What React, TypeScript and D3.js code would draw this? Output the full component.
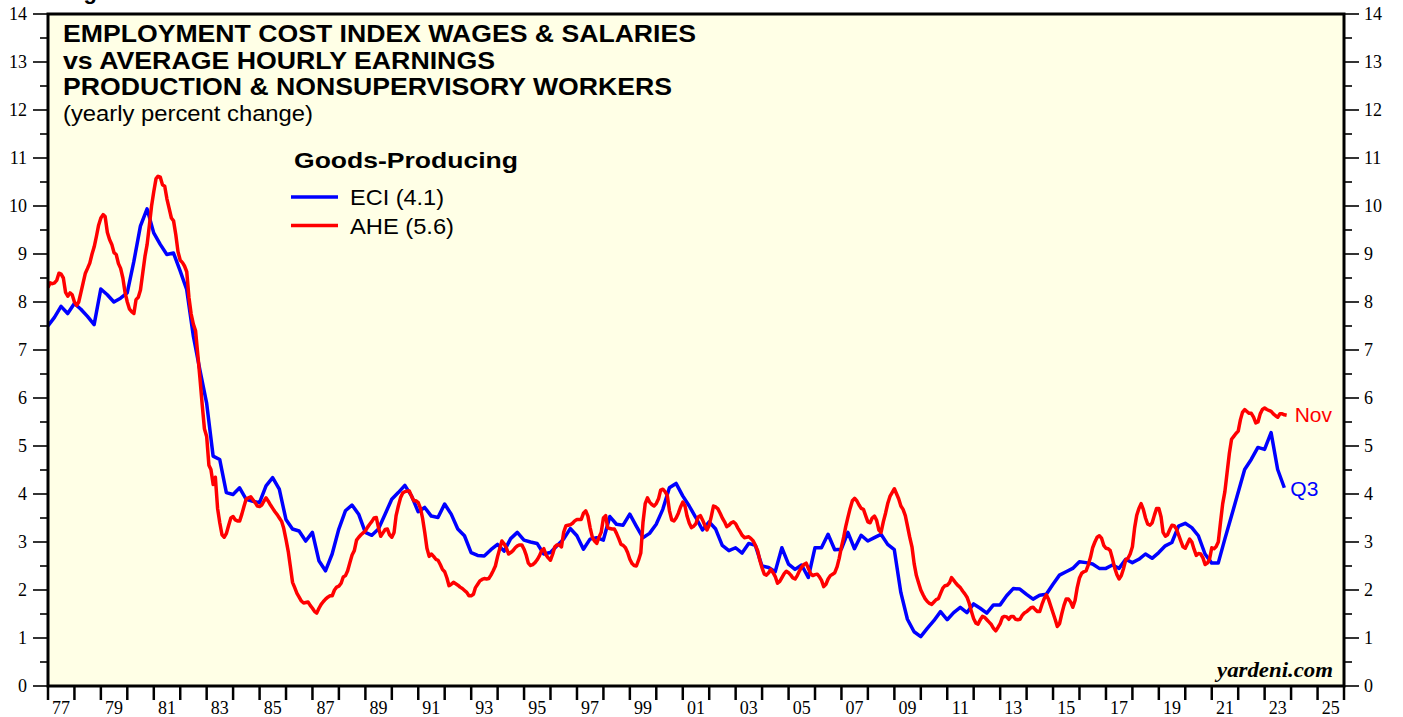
import { useEffect, useRef } from "react";
import * as d3 from "d3";

// ECI wages & salaries, goods-producing, yearly % change, quarterly from 1976 Q4 (plotted at quarter end)
const eciValues: number[] = [
  7.50,
  7.68, 7.91, 7.76, 7.97, // 77
  7.85, 7.70, 7.53, 8.27, // 78
  8.15, 8.00, 8.08, 8.19, // 79
  8.84, 9.58, 9.94, 9.44, // 80
  9.20, 8.99, 9.02, 8.65, // 81
  8.26, 7.30, 6.58, 5.90, // 82
  4.79, 4.72, 4.03, 3.99, // 83
  4.13, 3.89, 3.85, 3.82, // 84
  4.17, 4.34, 4.10, 3.47, // 85
  3.27, 3.23, 3.02, 3.20, // 86
  2.61, 2.40, 2.75, 3.27, // 87
  3.65, 3.77, 3.58, 3.20, // 88
  3.14, 3.27, 3.58, 3.89, // 89
  4.03, 4.18, 3.96, 3.63, // 90
  3.72, 3.54, 3.51, 3.79, // 91
  3.58, 3.27, 3.13, 2.78, // 92
  2.72, 2.71, 2.84, 2.95, // 93
  2.81, 3.07, 3.20, 3.04, // 94
  3.00, 2.97, 2.75, 2.78, // 95
  2.92, 3.06, 3.28, 3.13, // 96
  2.85, 3.06, 3.09, 3.04, // 97
  3.53, 3.37, 3.35, 3.58, // 98
  3.33, 3.09, 3.18, 3.37, // 99
  3.68, 4.13, 4.22, 3.96, // 00
  3.75, 3.51, 3.25, 3.42, // 01
  3.27, 2.93, 2.82, 2.88, // 02
  2.77, 2.97, 2.93, 2.50, // 03
  2.47, 2.38, 2.88, 2.54, // 04
  2.43, 2.52, 2.26, 2.88, // 05
  2.88, 3.16, 2.84, 2.85, // 06
  3.20, 2.86, 3.14, 3.02, // 07
  3.09, 3.16, 2.95, 2.84, // 08
  1.95, 1.39, 1.13, 1.03, // 09
  1.20, 1.36, 1.55, 1.38, // 10
  1.53, 1.64, 1.53, 1.71, // 11
  1.62, 1.52, 1.69, 1.69, // 12
  1.88, 2.03, 2.02, 1.91, // 13
  1.81, 1.89, 1.91, 2.12, // 14
  2.31, 2.38, 2.45, 2.59, // 15
  2.57, 2.54, 2.45, 2.45, // 16
  2.52, 2.45, 2.64, 2.57, // 17
  2.64, 2.75, 2.66, 2.78, // 18
  2.92, 2.99, 3.33, 3.39, // 19
  3.30, 3.13, 2.75, 2.56, // 20
  2.56, 3.06, 3.54, 4.03, // 21
  4.51, 4.72, 4.97, 4.93, // 22
  5.28, 4.51, 4.13,       // 23
];

// AHE production & nonsupervisory workers, goods-producing, yearly % change, monthly from Jan 1977
const aheValues: number[] = [
  8.30, 8.40, 8.38, 8.40, 8.45, 8.60, 8.58, 8.50, 8.20, 8.12, 8.19, 8.15,
  8.00, 7.93, 8.00, 8.20, 8.40, 8.60, 8.70, 8.81, 9.00, 9.15, 9.37, 9.60,
  9.75, 9.82, 9.78, 9.45, 9.30, 9.20, 9.03, 8.99, 8.80, 8.70, 8.50, 8.20,
  8.00, 7.85, 7.80, 7.76, 8.05, 8.10, 8.25, 8.60, 8.95, 9.20, 9.60, 10.00,
  10.30, 10.57, 10.62, 10.60, 10.44, 10.41, 10.15, 9.95, 9.75, 9.69, 9.40, 9.05,
  8.87, 8.82, 8.75, 8.63, 8.10, 7.75, 7.54, 7.40, 6.90, 6.40, 5.85, 5.36,
  5.20, 4.60, 4.51, 4.20, 4.35, 3.70, 3.40, 3.15, 3.10, 3.18, 3.35, 3.50,
  3.53, 3.46, 3.44, 3.44, 3.58, 3.75, 3.90, 3.92, 3.94, 3.88, 3.82, 3.75,
  3.74, 3.77, 3.85, 3.92, 3.85, 3.77, 3.70, 3.63, 3.57, 3.50, 3.43, 3.28,
  3.05, 2.80, 2.50, 2.16, 2.05, 1.93, 1.85, 1.77, 1.73, 1.74, 1.75, 1.68,
  1.62, 1.55, 1.52, 1.62, 1.70, 1.76, 1.81, 1.85, 1.88, 1.88, 2.00, 2.06,
  2.08, 2.14, 2.27, 2.30, 2.40, 2.57, 2.73, 2.82, 3.04, 3.10, 3.15, 3.19,
  3.23, 3.31, 3.37, 3.43, 3.50, 3.51, 3.30, 3.12, 3.19, 3.26, 3.27, 3.15,
  3.10, 3.20, 3.55, 3.75, 3.92, 4.02, 4.05, 4.06, 4.06, 3.95, 3.86, 3.86,
  3.82, 3.70, 3.50, 3.20, 2.87, 2.70, 2.75, 2.70, 2.64, 2.62, 2.53, 2.43,
  2.38, 2.25, 2.09, 2.12, 2.16, 2.13, 2.10, 2.06, 2.03, 1.99, 1.95, 1.88,
  1.88, 1.91, 2.05, 2.12, 2.19, 2.22, 2.24, 2.23, 2.24, 2.31, 2.40, 2.50,
  2.70, 2.87, 3.02, 2.96, 2.88, 2.75, 2.78, 2.82, 2.88, 2.92, 2.94, 2.94,
  2.85, 2.72, 2.56, 2.51, 2.53, 2.57, 2.63, 2.71, 2.82, 2.86, 2.73, 2.67,
  2.62, 2.75, 2.90, 2.94, 2.94, 2.90, 3.20, 3.34, 3.35, 3.36, 3.39, 3.44,
  3.47, 3.47, 3.47, 3.60, 3.65, 3.54, 3.30, 3.10, 3.02, 2.97, 3.10, 3.20,
  3.50, 3.55, 3.30, 3.28, 3.27, 3.27, 3.18, 3.07, 2.95, 2.93, 2.88, 2.78,
  2.64, 2.55, 2.51, 2.50, 2.62, 2.77, 3.40, 3.80, 3.92, 3.83, 3.78, 3.75,
  3.80, 3.90, 4.08, 4.10, 4.05, 3.97, 3.65, 3.46, 3.44, 3.50, 3.60, 3.73,
  3.83, 3.75, 3.54, 3.39, 3.30, 3.33, 3.38, 3.52, 3.55, 3.46, 3.35, 3.25,
  3.35, 3.55, 3.75, 3.73, 3.69, 3.60, 3.50, 3.42, 3.32, 3.35, 3.40, 3.42,
  3.38, 3.29, 3.22, 3.14, 3.09, 3.10, 3.11, 3.07, 3.02, 2.93, 2.82, 2.62,
  2.46, 2.33, 2.31, 2.36, 2.43, 2.36, 2.28, 2.14, 2.18, 2.26, 2.34, 2.39,
  2.36, 2.31, 2.25, 2.23, 2.30, 2.40, 2.48, 2.53, 2.56, 2.45, 2.34, 2.30,
  2.32, 2.33, 2.28, 2.20, 2.07, 2.12, 2.23, 2.30, 2.33, 2.36, 2.48, 2.66,
  2.90, 3.10, 3.32, 3.52, 3.70, 3.86, 3.91, 3.86, 3.77, 3.70, 3.68, 3.55,
  3.42, 3.40, 3.50, 3.54, 3.45, 3.25, 3.20, 3.42, 3.60, 3.80, 3.95, 4.03,
  4.11, 4.00, 3.90, 3.75, 3.68, 3.55, 3.33, 3.10, 2.90, 2.55, 2.30, 2.15,
  2.00, 1.90, 1.82, 1.76, 1.72, 1.70, 1.75, 1.80, 1.82, 1.93, 2.04, 2.09,
  2.10, 2.15, 2.26, 2.20, 2.14, 2.09, 2.05, 1.98, 1.92, 1.85, 1.72, 1.55,
  1.40, 1.31, 1.29, 1.38, 1.45, 1.43, 1.38, 1.33, 1.28, 1.20, 1.15, 1.22,
  1.30, 1.43, 1.45, 1.44, 1.39, 1.45, 1.45, 1.39, 1.38, 1.39, 1.47, 1.52,
  1.55, 1.59, 1.63, 1.64, 1.59, 1.55, 1.55, 1.70, 1.82, 1.90, 1.80, 1.66,
  1.52, 1.38, 1.24, 1.30, 1.50, 1.68, 1.81, 1.81, 1.75, 1.64, 1.78, 2.05,
  2.25, 2.35, 2.38, 2.40, 2.52, 2.68, 2.88, 3.00, 3.10, 3.13, 3.08, 2.93,
  2.87, 2.86, 2.82, 2.65, 2.46, 2.32, 2.23, 2.30, 2.45, 2.63, 2.66, 2.75,
  2.90, 3.30, 3.55, 3.70, 3.80, 3.68, 3.50, 3.37, 3.35, 3.40, 3.56, 3.70,
  3.70, 3.52, 3.20, 3.12, 3.15, 3.26, 3.35, 3.34, 3.27, 3.15, 3.02, 2.90,
  2.87, 2.97, 3.06, 3.00, 2.85, 2.72, 2.76, 2.75, 2.67, 2.53, 2.56, 2.64,
  2.88, 2.86, 2.90, 3.00, 3.40, 3.80, 4.05, 4.45, 4.85, 5.14, 5.20, 5.26,
  5.31, 5.55, 5.70, 5.76, 5.72, 5.68, 5.68, 5.60, 5.48, 5.50, 5.67, 5.76,
  5.79, 5.76, 5.74, 5.72, 5.67, 5.63, 5.60, 5.67, 5.67, 5.65, 5.64,
];

const titleLines: string[] = [
  "EMPLOYMENT COST INDEX WAGES & SALARIES",
  "vs AVERAGE HOURLY EARNINGS",
  "PRODUCTION & NONSUPERVISORY WORKERS",
];
const titleWidths: number[] = [633, 432, 609];
const subtitle = "(yearly percent change)";
const legendTitle = "Goods-Producing";
const seriesNames: string[] = ["ECI (4.1)", "AHE (5.6)"];
const seriesNameWidths: number[] = [94, 104];
const seriesColors: string[] = ["#0000FF", "#FF0000"];
const endLabels: string[] = ["Q3", "Nov"];
const yTicks: number[] = d3.range(0, 15);
const yMinorTicks: number[] = d3.range(0.5, 14, 1);

const width = 1403, height = 717;
const left = 48, right = 1344, top = 14, bottom = 686;

function App() {
  const ref = useRef<SVGSVGElement>(null);

  useEffect(() => {
    const svg = d3.select(ref.current);
    svg.selectAll("*").remove();

    const x = d3.scaleTime()
      .domain([new Date(1977, 0, 1), new Date(2026, 0, 1)])
      .range([left, right]);
    const y = d3.scaleLinear().domain([0, 14]).range([bottom, top]);

    const eci = eciValues.map((v, i) => ({ date: new Date(1977, 3 * i, 0), value: v }));
    const ahe = aheValues.map((v, i) => ({ date: new Date(1977, i, 1), value: v }));

    const sans = "Liberation Sans, Arial, sans-serif";
    const serif = "Liberation Serif, Times New Roman, serif";

    // plot background
    svg.append("rect")
      .attr("x", left).attr("y", top)
      .attr("width", right - left).attr("height", bottom - top)
      .attr("fill", "#FFFFE6");

    svg.append("clipPath").attr("id", "plotclip")
      .append("rect")
      .attr("x", left).attr("y", top)
      .attr("width", right - left).attr("height", bottom - top);

    // heading above the frame, mostly outside the picture in the reference
    svg.append("text")
      .attr("x", 64).attr("y", -1)
      .attr("font-family", sans)
      .attr("font-weight", "bold")
      .attr("font-size", 22)
      .text("Figure 3.");

    // left & right y ticks
    const yAxes = svg.append("g").attr("stroke", "#000").attr("stroke-width", 1.6);
    yAxes.selectAll(".lmaj").data(yTicks).join("line")
      .attr("x1", left - 15).attr("x2", left)
      .attr("y1", d => y(d)).attr("y2", d => y(d));
    yAxes.selectAll(".lmin").data(yMinorTicks).join("line")
      .attr("x1", left - 8).attr("x2", left)
      .attr("y1", d => y(d)).attr("y2", d => y(d));
    yAxes.selectAll(".rmaj").data(yTicks).join("line")
      .attr("x1", right).attr("x2", right + 15)
      .attr("y1", d => y(d)).attr("y2", d => y(d));
    yAxes.selectAll(".rmin").data(yMinorTicks).join("line")
      .attr("x1", right).attr("x2", right + 8)
      .attr("y1", d => y(d)).attr("y2", d => y(d));

    svg.append("g").selectAll("text").data(yTicks).join("text")
      .attr("x", 27).attr("y", d => y(d) + 6)
      .attr("text-anchor", "end")
      .attr("font-family", serif).attr("font-size", 18)
      .text(d => d);
    svg.append("g").selectAll("text").data(yTicks).join("text")
      .attr("x", right + 20).attr("y", d => y(d) + 6)
      .attr("font-family", serif).attr("font-size", 18)
      .text(d => d);

    // x ticks at each year boundary, labels on odd years
    const years = d3.timeYear.range(new Date(1977, 0, 1), new Date(2027, 0, 1));
    svg.append("g").attr("stroke", "#000").attr("stroke-width", 2.5)
      .selectAll("line").data(years).join("line")
      .attr("x1", d => x(d)).attr("x2", d => x(d))
      .attr("y1", bottom).attr("y2", bottom + 14);
    svg.append("g").selectAll("text")
      .data(years.filter(d => d.getFullYear() % 2 === 1 && d.getFullYear() < 2026))
      .join("text")
      .attr("x", d => x(new Date(d.getFullYear(), 6, 1)))
      .attr("y", 714)
      .attr("text-anchor", "middle")
      .attr("font-family", serif).attr("font-size", 18)
      .text(d => String(d.getFullYear()).slice(2));

    // series
    const line = d3.line<{ date: Date; value: number }>()
      .x(d => x(d.date))
      .y(d => y(d.value));
    const plot = svg.append("g").attr("clip-path", "url(#plotclip)");
    [eci, ahe].forEach((s, i) => {
      plot.append("path")
        .datum(s)
        .attr("fill", "none")
        .attr("stroke", seriesColors[i])
        .attr("stroke-width", 3.5)
        .attr("stroke-linejoin", "round")
        .attr("d", line);
    });

    // frame
    svg.append("rect")
      .attr("x", left).attr("y", top)
      .attr("width", right - left).attr("height", bottom - top)
      .attr("fill", "none")
      .attr("stroke", "#000")
      .attr("stroke-width", 3);

    // titles
    svg.append("g").selectAll("text").data(titleLines).join("text")
      .attr("x", 63).attr("y", (d, i) => 42 + i * 26.6)
      .attr("font-family", sans).attr("font-weight", "bold").attr("font-size", 24)
      .attr("textLength", (d, i) => titleWidths[i])
      .attr("lengthAdjust", "spacingAndGlyphs")
      .text(d => d);
    svg.append("text")
      .attr("x", 63).attr("y", 121)
      .attr("font-family", sans).attr("font-size", 22)
      .attr("textLength", 250)
      .attr("lengthAdjust", "spacingAndGlyphs")
      .text(subtitle);

    // legend
    svg.append("text")
      .attr("x", 294).attr("y", 168)
      .attr("font-family", sans).attr("font-weight", "bold").attr("font-size", 22)
      .attr("textLength", 224)
      .attr("lengthAdjust", "spacingAndGlyphs")
      .text(legendTitle);
    seriesNames.forEach((name, i) => {
      const ly = 197 + i * 28.5;
      svg.append("line")
        .attr("x1", 291).attr("x2", 338)
        .attr("y1", ly).attr("y2", ly)
        .attr("stroke", seriesColors[i]).attr("stroke-width", 3.5);
      svg.append("text")
        .attr("x", 350).attr("y", ly + 8)
        .attr("font-family", sans).attr("font-size", 22)
        .attr("textLength", seriesNameWidths[i])
        .attr("lengthAdjust", "spacingAndGlyphs")
        .text(name);
    });

    // end labels
    const lastEci = eci[eci.length - 1];
    const lastAhe = ahe[ahe.length - 1];
    svg.append("text")
      .attr("x", x(lastEci.date) + 6).attr("y", y(lastEci.value) + 8)
      .attr("fill", seriesColors[0])
      .attr("font-family", sans).attr("font-size", 21)
      .text(endLabels[0]);
    svg.append("text")
      .attr("x", x(lastAhe.date) + 8).attr("y", y(lastAhe.value) + 7)
      .attr("fill", seriesColors[1])
      .attr("font-family", sans).attr("font-size", 21)
      .text(endLabels[1]);

    // source
    svg.append("text")
      .attr("x", 1333).attr("y", 677)
      .attr("text-anchor", "end")
      .attr("font-family", serif).attr("font-weight", "bold").attr("font-style", "italic")
      .attr("font-size", 21)
      .attr("textLength", 116)
      .attr("lengthAdjust", "spacingAndGlyphs")
      .text("yardeni.com");
  }, []);

  return (
    <svg
      ref={ref}
      width={width}
      height={height}
      style={{ position: "absolute", left: 0, top: 0, background: "#fff", display: "block" }}
    />
  );
}

export default App;
